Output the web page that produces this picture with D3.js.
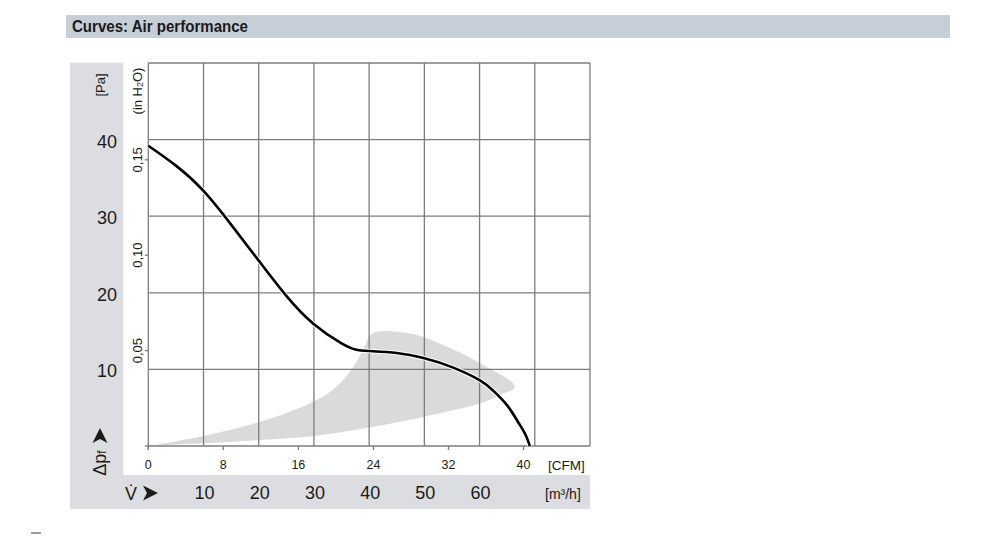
<!DOCTYPE html>
<html><head><meta charset="utf-8">
<script src="https://cdn.jsdelivr.net/npm/d3@7"></script>
<style>body{margin:0;background:#fff}svg{display:block}text{font-family:"Liberation Sans",Arial,Helvetica,sans-serif;fill:#1a1a1a}</style>
</head><body><svg id="c" width="1000" height="536"></svg>
<script>
// ---- data ----
const flowM3h = [0,5,10,15,20,25,30,35,37.5,40,45,50,55,60,62.5,65,67,68.3,69.1];
const pressPa = [39.2,36.6,33.3,28.9,24.2,19.6,15.9,13.4,12.6,12.4,12.15,11.45,10.3,8.6,7.2,5.3,3.1,1.5,0];
const bandUpperX  = [0,10,20,25,30,33,35.5,37.7,39.3,40.6,47.4,53.4,60.1,66.4];
const bandUpperPa = [0,1.3,3.1,4.3,5.8,7.1,8.8,11.0,13.2,14.7,14.7,13.2,10.8,7.74];
const bandLowerX  = [63.7,60.1,50,40.2,30,20,10,0];
const bandLowerPa = [6.66,5.57,3.83,2.44,1.3,0.78,0.35,0];
const paTicks = [10,20,30,40];
const m3hTicks = [10,20,30,40,50,60];
const cfmTicks = [0,8,16,24,32,40];
const inH2OTicks = [0.05,0.10,0.15];
const inH2OLabels = ["0,05","0,10","0,15"];
const title = "Curves: Air performance";

const CFM = 1.699, INH2O = 249.09;
const svg = d3.select("#c");
const x = d3.scaleLinear().domain([0,80]).range([148.3,590]);
const y = d3.scaleLinear().domain([0,50]).range([446,63]);

// header bar
svg.append("rect").attr("x",66).attr("y",15).attr("width",884).attr("height",23).attr("fill","#c6ced8");
svg.append("text").attr("x",72).attr("y",32).attr("font-size",16.5).attr("font-weight","bold")
  .attr("textLength",176).attr("lengthAdjust","spacingAndGlyphs").text(title);

// gray panels
const g = "#dcdde0";
svg.append("rect").attr("x",70).attr("y",62.7).attr("width",53.3).attr("height",446.3).attr("fill",g);
svg.append("rect").attr("x",70).attr("y",475).attr("width",520).attr("height",34).attr("fill",g);
svg.append("rect").attr("x",31).attr("y",532).attr("width",10).attr("height",2).attr("fill","#999");

// band
const bandPts = bandUpperX.map((v,i)=>[v,bandUpperPa[i]]).concat(bandLowerX.map((v,i)=>[v,bandLowerPa[i]]));
svg.append("path").attr("d", d3.line().x(d=>x(d[0])).y(d=>y(d[1])).curve(d3.curveCatmullRom.alpha(0.5))(bandPts)+"Z")
  .attr("fill","#d9dadc");

// grid
const grid = svg.append("g").attr("stroke","#7c7c7c").attr("stroke-width",1.3);
d3.range(0,81,10).forEach(v=>grid.append("line").attr("x1",x(v)).attr("x2",x(v)).attr("y1",y(50)).attr("y2",y(0)));
d3.range(0,51,10).forEach(v=>grid.append("line").attr("x1",x(0)).attr("x2",x(80)).attr("y1",y(v)).attr("y2",y(v)));
// axis ticks
cfmTicks.forEach(v=>grid.append("line").attr("x1",x(v*CFM)).attr("x2",x(v*CFM)).attr("y1",y(0)).attr("y2",y(0)+4));
inH2OTicks.forEach(v=>grid.append("line").attr("x1",x(0)-3.5).attr("x2",x(0)).attr("y1",y(v*INH2O)).attr("y2",y(v*INH2O)));
grid.append("line").attr("x1",x(0)-3.5).attr("x2",x(0)).attr("y1",y(0)).attr("y2",y(0));
grid.append("line").attr("x1",x(0)).attr("x2",x(0)).attr("y1",y(0)).attr("y2",y(0)+4);

// curve
const line = d3.line().x((d,i)=>x(flowM3h[i])).y((d,i)=>y(pressPa[i])).curve(d3.curveNatural);
svg.append("path").attr("d",line(flowM3h)).attr("fill","none").attr("stroke","#fff").attr("stroke-width",4.5);
svg.append("path").attr("d",line(flowM3h)).attr("fill","none").attr("stroke","#000").attr("stroke-width",2.6);

// Pa labels
paTicks.forEach(v=>svg.append("text").attr("x",117).attr("y",y(v)+2).attr("text-anchor","end")
  .attr("dominant-baseline","central").attr("font-size",18).text(v));
svg.append("text").attr("transform","translate(100,85) rotate(-90)").attr("text-anchor","middle")
  .attr("dominant-baseline","central").attr("font-size",13).text("[Pa]");
// Δpf label
const dp = svg.append("text").attr("transform","translate(100,463) rotate(-90)").attr("text-anchor","middle")
  .attr("dominant-baseline","central").attr("font-size",18);
dp.append("tspan").text("Δp");
dp.append("tspan").attr("font-size",12).attr("dy",2).text("f");
svg.append("path").attr("d","M100,428 L107.5,443 L100,439 L92.5,443 Z").attr("fill","#1a1a1a");

// inH2O labels
inH2OTicks.forEach((v,i)=>svg.append("text").attr("transform",`translate(137,${y(v*INH2O)}) rotate(-90)`)
  .attr("text-anchor","middle").attr("dominant-baseline","central").attr("font-size",13).text(inH2OLabels[i]));
const ih = svg.append("text").attr("transform","translate(137,91) rotate(-90)").attr("text-anchor","middle")
  .attr("dominant-baseline","central").attr("font-size",13);
ih.append("tspan").text("(in H");
ih.append("tspan").attr("font-size",9).attr("dy",3).text("2");
ih.append("tspan").attr("dy",-3).text("O)");

// CFM labels
cfmTicks.forEach(v=>svg.append("text").attr("x",x(v*CFM)).attr("y",465).attr("text-anchor","middle")
  .attr("dominant-baseline","central").attr("font-size",12.5).text(v));
svg.append("text").attr("x",548).attr("y",465).attr("dominant-baseline","central").attr("font-size",13.5).text("[CFM]");

// m3/h labels
m3hTicks.forEach(v=>svg.append("text").attr("x",x(v)+1).attr("y",493).attr("text-anchor","middle")
  .attr("dominant-baseline","central").attr("font-size",18).text(v));
svg.append("text").attr("x",545).attr("y",494).attr("dominant-baseline","central").attr("font-size",14).text("[m³/h]");
svg.append("text").attr("x",125).attr("y",494).attr("dominant-baseline","central").attr("font-size",18).text("V̇");
svg.append("path").attr("d","M158,493 L143,485.5 L147,493 L143,500.5 Z").attr("fill","#1a1a1a");
</script></body></html>
